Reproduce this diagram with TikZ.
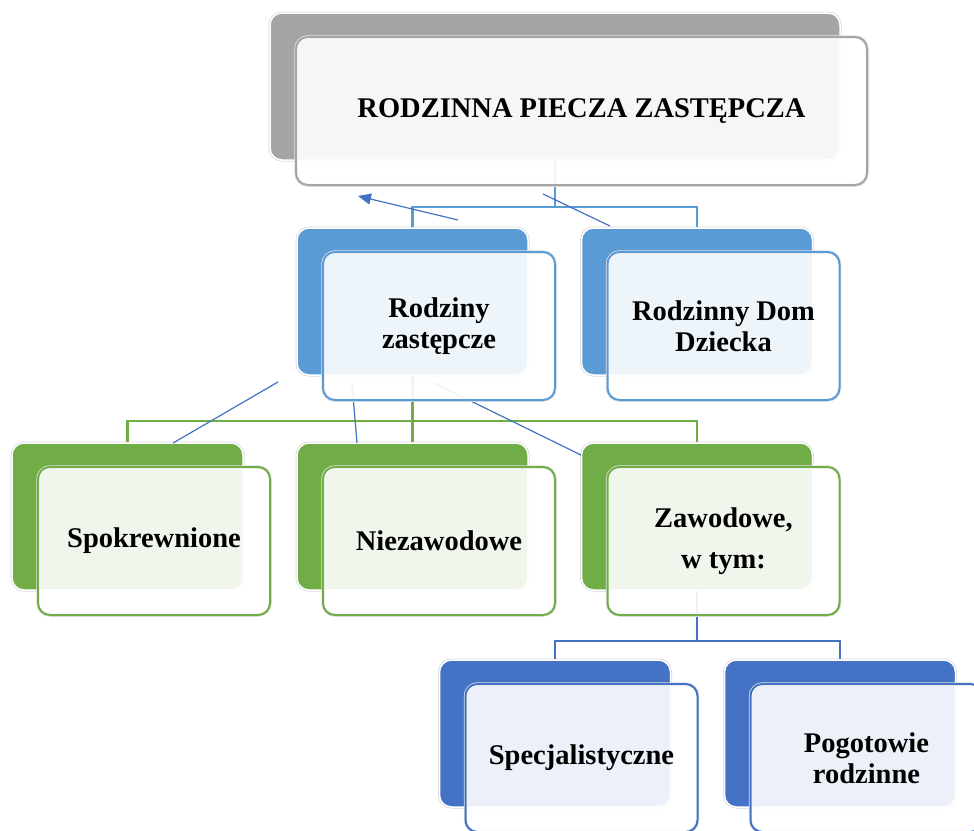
\documentclass[tikz,border=0pt]{standalone}
\usepackage{fontspec}
\setmainfont{Liberation Serif}
\usetikzlibrary{arrows.meta}
\definecolor{topgray}{HTML}{A5A5A5}
\definecolor{midblue}{HTML}{5B9BD5}
\definecolor{leafgreen}{HTML}{70AD47}
\definecolor{deepblue}{HTML}{4472C4}
\begin{document}
\begin{tikzpicture}[x=1pt, y=-1pt,
    backbox/.style={draw=white, line width=1.5pt, rounded corners=12pt, fill=#1,
      minimum width=231pt, minimum height=147pt,
      preaction={draw=black!15, line width=3pt}},
    frontbox/.style={draw=#1, line width=2pt, rounded corners=12pt,
      fill=white, fill opacity=0.9, text opacity=1,
      minimum width=232pt, minimum height=148pt, align=center,
      font=\fontsize{28.5}{31}\selectfont\bfseries,
      preaction={draw=black!12, line width=3.5pt}},
    tree/.style={draw=#1, line width=2.2pt},
    stray/.style={draw=deepblue, line width=1.2pt}]
    \useasboundingbox (0,0) rectangle (974,830);

    % back boxes
    \node[backbox=topgray, minimum width=570pt] (top-b) at (555,86.5) {};
    \node[backbox=midblue] (rz-b) at (412.5,301.5) {};
    \node[backbox=midblue] (rdd-b) at (697,301.5) {};
    \node[backbox=leafgreen] (sp-b) at (127.5,516.5) {};
    \node[backbox=leafgreen] (nz-b) at (412.5,516.5) {};
    \node[backbox=leafgreen] (zw-b) at (697,516.5) {};
    \node[backbox=deepblue] (spc-b) at (555,733.5) {};
    \node[backbox=deepblue] (pog-b) at (840,733.5) {};

    % tree lines
    \draw[tree=midblue] (top-b.south) -- ++(0,46) coordinate (j1) -| (rz-b.north);
    \draw[tree=midblue] (j1) -| (rdd-b.north);
    \draw[tree=leafgreen] (rz-b.south) -- ++(0,45) coordinate (j2) -| (sp-b.north);
    \draw[tree=leafgreen] (j2) -- (nz-b.north);
    \draw[tree=leafgreen] (j2) -| (zw-b.north);
    \draw[tree=deepblue] (zw-b.south) -- ++(0,50) coordinate (j3) -| (spc-b.north);
    \draw[tree=deepblue] (j3) -| (pog-b.north);

    % loose strokes
    \coordinate (a1) at (458,220);
    \coordinate (a2) at (358,196);
    \draw[stray, -{Triangle[length=13pt, width=11pt]}] (a1) -- (a2);
    \coordinate (b1) at (543,194);
    \coordinate (b2) at (610,226);
    \draw[stray] (b1) -- (b2);
    \coordinate (c1) at (278,382);
    \coordinate (c2) at (173,443);
    \draw[stray] (c1) -- (c2);
    \coordinate (d1) at (352,384);
    \coordinate (d2) at (357,443);
    \draw[stray] (d1) -- (d2);
    \coordinate (e1) at (434,383);
    \coordinate (e2) at (581,455);
    \draw[stray] (e1) -- (e2);

    % front boxes
    \node[frontbox=topgray, minimum width=571pt] (top) at (top-b) [xshift=26.5pt, yshift=-24.5pt] {RODZINNA PIECZA ZASTĘPCZA};
    \node[frontbox=midblue] (rz) at (rz-b) [xshift=26.5pt, yshift=-24.5pt] {Rodziny\\zastępcze};
    \node[frontbox=midblue] (rdd) at (rdd-b) [xshift=26.5pt, yshift=-24.5pt] {Rodzinny Dom\\Dziecka};
    \node[frontbox=leafgreen] (sp) at (sp-b) [xshift=26.5pt, yshift=-24.5pt] {Spokrewnione};
    \node[frontbox=leafgreen] (nz) at (nz-b) [xshift=26.5pt, yshift=-24.5pt] {Niezawodowe};
    \node[frontbox=leafgreen] (zw) at (zw-b) [xshift=26.5pt, yshift=-24.5pt] {Zawodowe,\\[10pt]w tym:};
    \node[frontbox=deepblue] (spc) at (spc-b) [xshift=26.5pt, yshift=-24.5pt] {Specjalistyczne};
    \node[frontbox=deepblue] (pog) at (pog-b) [xshift=26.5pt, yshift=-24.5pt] {Pogotowie\\rodzinne};
\end{tikzpicture}
\end{document}
